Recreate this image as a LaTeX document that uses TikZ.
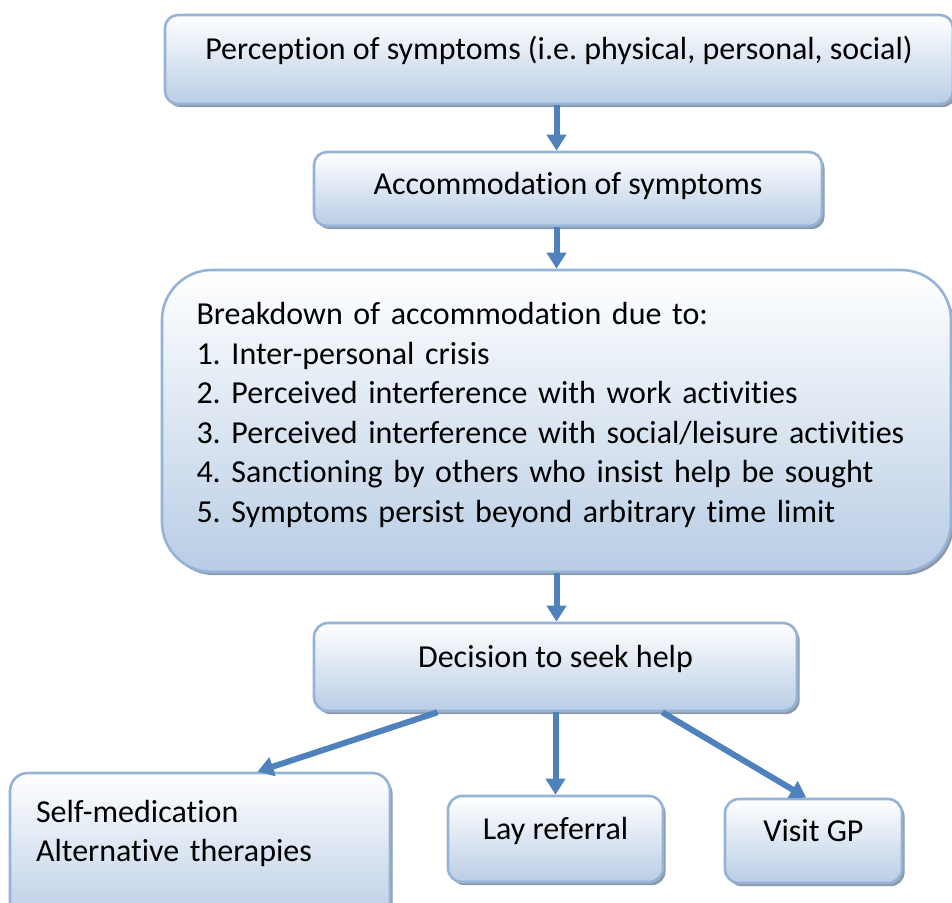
\documentclass[tikz,border=0pt]{standalone}
\usepackage{fontspec}
\setmainfont{Carlito}[RawFeature={-liga;-clig;-dlig;-calt;-rlig}]
\usepackage{xcolor}
\usepackage{tikz}
\usetikzlibrary{calc,arrows.meta,shadows}
\definecolor{edge}{HTML}{95B3D7}
\definecolor{fillbot}{HTML}{B9CDE5}
\definecolor{shade}{HTML}{8D99A8}
\definecolor{flow}{HTML}{4F81BD}
\frenchspacing
\tikzset{
  box/.style={draw=edge, line width=1.3pt, rounded corners=6.5pt, top color=white, bottom color=fillbot,
    drop shadow={shadow xshift=1.3pt, shadow yshift=-1.6pt, fill=shade, opacity=1},
    font=\fontsize{16}{19.7}\selectfont, inner sep=0pt},
  one/.style={box, text height=6pt, text depth=6pt},
  list/.style={box, align=left},
  arr/.style={draw=flow, line width=3pt, -{Triangle[width=9.5pt,length=8pt]}},
}

\begin{document}
\begin{tikzpicture}[x=0.5pt, y=-0.5pt]
  \useasboundingbox (0,0) rectangle (952,903);
  \node[one, minimum width=394pt, minimum height=44.5pt] (perc) at (559,59.5)
    {Perception of symptoms (i.e. physical, personal, social)};
  \node[one, minimum width=254pt, minimum height=37pt, text height=9pt, text depth=3pt] (accom) at (568,189)
    {Accommodation of symptoms};
  \node[list, rounded corners=25pt, minimum width=394.5pt, minimum height=151pt,
    text width=360pt, text height=12pt, text depth=108pt] (brk) at (556.5,421)
    {Breakdown of accommodation due to:\\
     1. Inter-personal crisis\\
     2. Perceived interference with work activities\\
     3. Perceived interference with social/leisure activities\\
     4. Sanctioning by others who insist help be sought\\
     5. Symptoms persist beyond arbitrary time limit};
  \node[one, minimum width=241.5pt, minimum height=44pt, rounded corners=7pt] (decide) at (555.5,667)
    {Decision to seek help};
  \node[list, rounded corners=9pt, minimum width=190pt, minimum height=76pt,
    text width=164pt, text height=12pt, text depth=39pt] (selfmed) at (200,849)
    {Self-medication\\ Alternative therapies};
  \node[one, minimum width=107.5pt, minimum height=43pt, rounded corners=7pt] (lay) at (555.5,839)
    {Lay referral};
  \node[one, minimum width=88.5pt, minimum height=42pt, rounded corners=7pt] (gp) at (813.5,841)
    {Visit GP};

  \draw[arr] (perc.south -| brk.north) -- (brk.north |- accom.north);
  \draw[arr] (brk.north |- accom.south) -- (brk.north);
  \draw[arr] (brk.south) -- (brk.south |- decide.north);
  \draw[arr] ($(decide.south west)!0.257!(decide.south east)$) -- ($(selfmed.north west)!0.65!(selfmed.north east)$);
  \draw[arr] (decide.south) -- (lay.north);
  \draw[arr] ($(decide.south west)!0.72!(decide.south east)$) -- ($(gp.north west)!0.46!(gp.north east)$);
\end{tikzpicture}
\end{document}
